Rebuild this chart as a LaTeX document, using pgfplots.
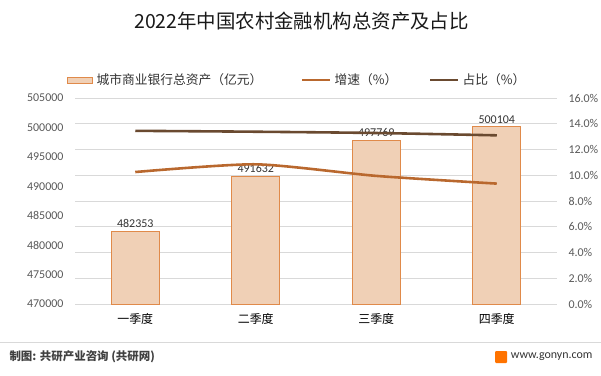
\documentclass[border=0pt]{standalone}
\usepackage{fontspec}
\setmainfont{Carlito}
\newfontfamily\cjk{Noto Sans CJK SC}
\usepackage{pgfplots}
\pgfplotsset{compat=1.18}
\definecolor{barfill}{HTML}{F0D0B6}
\definecolor{baredge}{HTML}{E08A4A}
\definecolor{growth}{HTML}{B9682E}
\definecolor{share}{HTML}{6A4A30}
\definecolor{tickc}{HTML}{595959}
\definecolor{gridc}{HTML}{D9D9D9}
\begin{document}
\begin{tikzpicture}[x=1bp,y=1bp]
\path[use as bounding box] (0,0) rectangle (601,375);
% grid + right axis
\begin{axis}[at={(75bp,71bp)}, anchor=south west, scale only axis, width=482bp, height=206bp,
  xmin=-0.5, xmax=3.5, ymin=0, ymax=16, ytick={0,2,...,16},
  axis y line*=right, axis x line=none, axis line style={draw=none}, major tick length=0pt,
  ymajorgrids, grid style={gridc, line width=0.8pt},
  yticklabel={\pgfmathprintnumber[fixed,fixed zerofill,precision=1]{\tick}\%},
  yticklabel style={font=\fontsize{12}{13}\selectfont, color=tickc, xshift=8bp},
  /pgf/number format/assume math mode=true]
\addplot[draw=none] coordinates {(0,0)};
\end{axis}
% bars + left axis
\begin{axis}[at={(75bp,71bp)}, anchor=south west, scale only axis, width=482bp, height=206bp,
  xmin=-0.5, xmax=3.5, ymin=470000, ymax=505000, ytick={470000,475000,...,505000},
  axis line style={draw=none}, major tick length=0pt,
  xtick={0,1,2,3}, xticklabels={一季度,二季度,三季度,四季度},
  xticklabel style={font=\cjk\fontsize{12}{13}\selectfont, color=black, yshift=-6bp},
  yticklabel style={font=\fontsize{12}{13}\selectfont, color=tickc, xshift=-8bp, /pgf/number format/.cd, fixed, 1000 sep={}},
  scaled y ticks=false,
  /pgf/number format/assume math mode=true,
  ybar, bar width=48bp,
  nodes near coords, nodes near coords style={font=\fontsize{12}{13}\selectfont, color=black!80, /pgf/number format/.cd, fixed, 1000 sep={}, assume math mode=true}]
\addplot[fill=barfill, draw=baredge, line width=0.8pt] coordinates {(0,482353) (1,491632) (2,497769) (3,500104)};
\end{axis}
% lines
\begin{axis}[at={(75bp,71bp)}, anchor=south west, scale only axis, width=482bp, height=206bp,
  xmin=-0.5, xmax=3.5, ymin=0, ymax=16, hide axis]
\addplot[growth, line width=2.6pt, smooth, tension=0.4] coordinates {(0,10.25) (1,10.85) (2,9.95) (3,9.35)};
\addplot[share, line width=2.6pt, smooth] coordinates {(0,13.45) (1,13.38) (2,13.28) (3,13.1)};
\end{axis}
% title
\node[font=\cjk\fontsize{19.5}{22}\selectfont, color=black!90] at (301.5,354) {2022年中国农村金融机构总资产及占比};
% legend
\draw[fill=barfill, draw=baredge, line width=0.8pt] (67,292) rectangle (92,298);
\node[anchor=west, font=\cjk\fontsize{12.8}{14}\selectfont, color=black!80] at (93,295) {城市商业银行总资产（亿元）};
\draw[growth, line width=2.6pt] (302,295) -- (330,295);
\node[anchor=west, font=\cjk\fontsize{12.8}{14}\selectfont, color=black!80] at (331,295) {增速（\%）};
\draw[share, line width=2.6pt] (430,295) -- (458,295);
\node[anchor=west, font=\cjk\fontsize{12.8}{14}\selectfont, color=black!80] at (459,295) {占比（\%）};
% footer
\draw[gridc, line width=0.6pt] (0,33) -- (601,33);
\node[anchor=west, font=\cjk\bfseries\fontsize{11.5}{13}\selectfont, color=black!75] at (6,18) {制图: 共研产业咨询 (共研网)};
\fill[orange!90!red, rounded corners=1bp] (495,12) rectangle (507,24);
\node[anchor=east, font=\fontsize{12}{14}\selectfont, color=black!80] at (596,18) {www.gonyn.com};
\end{tikzpicture}
\end{document}
